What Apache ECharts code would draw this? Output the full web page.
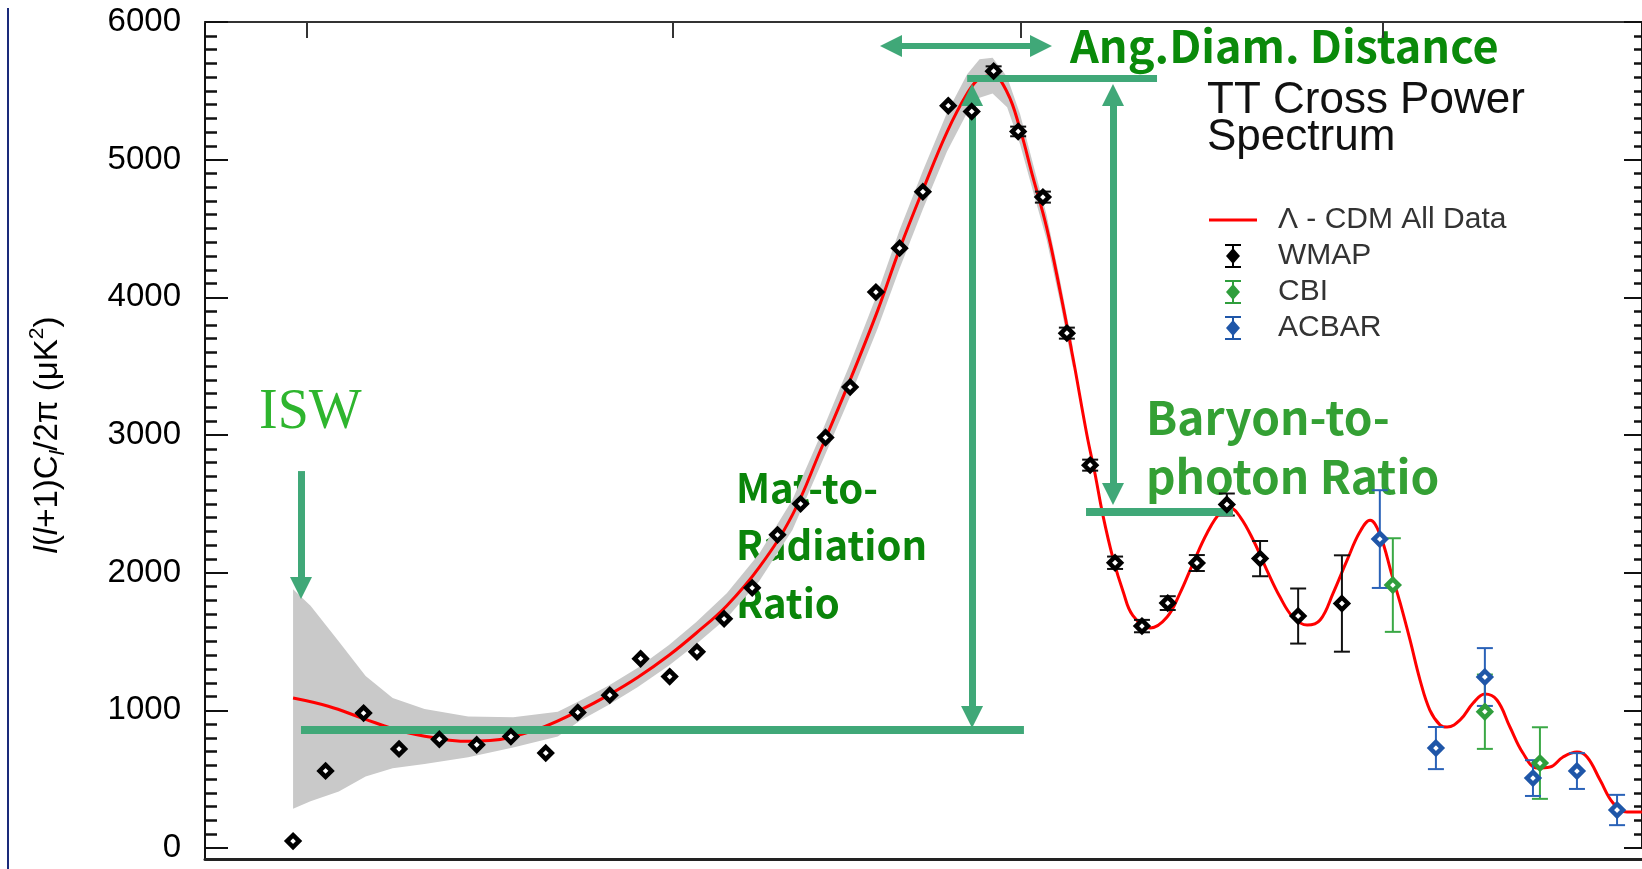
<!DOCTYPE html>
<html><head><meta charset="utf-8">
<script src="https://cdn.jsdelivr.net/npm/echarts@6/dist/echarts.min.js"></script>
<style>html,body{margin:0;padding:0;background:#fff}#c{width:1642px;height:869px}</style>
</head><body><div id="c"></div>
<script>
// ---------- data (multipole l, D_l = l(l+1)C_l/2pi in uK^2) ----------
const modelL = [2,3.1,4.6,6.7,9.6,12,14.7,17.3,22.1,28.4,34.4,41.3,49.8,58.2,69,82,97,111,128,145,160,177,196,213,224,236,250,263,276,291,306,321,338,348,358,371,385,398,423,448,468,489,512,534,552,570,594,620,646,672,702,730,759,791,821,846,870,901,922,948,975,1002,1031,1051,1089,1128,1164,1202,1244,1287,1335,1380,1427,1478,1516,1566,1617,1673,1735];
const modelD = [1090,1030,940,850,795,775,780,805,880,1000,1112,1240,1400,1560,1760,2040,2420,2880,3400,3900,4350,4780,5200,5480,5590,5610,5490,5220,4880,4510,4050,3566,3000,2720,2420,2110,1860,1690,1598,1678,1852,2070,2288,2433,2469,2404,2237,2019,1823,1678,1619,1656,1852,2091,2295,2380,2280,1980,1780,1511,1220,1002,893,879,930,1053,1118,1075,879,690,581,588,661,697,661,494,327,261,261];

const bandL  = [2,2.5,3.5,4.7,6.2,8.4,12.3,17.6,24.4,28.4,34.4,41.3,49.8,58.2,69,82,97,111,128,145,160,177,196,213,224,236,250,263,276,291,306,321];
const bandHi = [1880,1760,1500,1250,1090,1010,955,950,990,1070,1180,1310,1475,1640,1850,2140,2530,2990,3520,4030,4490,4920,5340,5620,5730,5740,5600,5330,4980,4600,4130,3640];
const bandLo = [285,340,410,520,580,610,660,730,810,925,1040,1170,1325,1480,1670,1940,2310,2770,3280,3770,4210,4640,5060,5340,5450,5480,5380,5110,4780,4420,3970,3490];

const wmapL   = [2,3,4.6,6.6,9.6,13.2,17.3,22.4,28,34.6,42,50,58.5,68,79,90,101,114,128,144,160,177,197,217,237,261,287,314,342,374,411,449,495,546,607,683,779];
const wmapD   = [50,560,980,720,790,750,810,690,985,1110,1375,1245,1425,1665,1890,2275,2500,2982,3348,4038,4357,4767,5392,5350,5643,5205,4728,3740,2781,2072,1612,1779,2070,2495,2102,1685,1776];
const wmapErr = [0,0,0,0,0,0,0,0,0,0,0,0,0,0,0,0,0,0,0,0,0,0,0,0,35,35,40,40,40,45,45,50,58,80,128,200,350];

const cbiL   = [903,1164,1345];
const cbiD   = [1910,990,617];
const cbiErr = [340,270,260];

const acbarL   = [870,1019,1164,1321,1478,1633];
const acbarD   = [2244,726,1242,508,559,276];
const acbarErr = [355,153,210,130,130,110];

const topTickL = [2.39,51,264,878];

const X_MIN_L = 0.511, X_MAX_L = 1735.4;
const Y_MIN = 0, Y_MAX = 6000, Y_STEP = 1000, Y_MINOR_SPLIT = 10;

// ---------- scale: the plot's multipole axis is spaced as l^(1/4) ----------
const sx = l => Math.pow(l, 0.25);

const G = '#40a878';
const cbiColor = '#2f9e3c', acbarColor = '#1f56a8';

function errSeries(name, L, D, E, color) {
  return {
    type: 'custom', name, coordinateSystem: 'cartesian2d', z: 4, silent: true, clip: true,
    data: L.map((l, i) => [sx(l), D[i] - E[i], D[i] + E[i], E[i]]).filter(d => d[3] > 0),
    encode: { x: 0, y: [1, 2] },
    renderItem: (p, api) => {
      const x = api.value(0);
      const lo = api.coord([x, api.value(1)]);
      const hi = api.coord([x, api.value(2)]);
      const w = 8, st = { stroke: color, lineWidth: 2 };
      return { type: 'group', children: [
        { type: 'line', shape: { x1: lo[0], y1: lo[1], x2: hi[0], y2: hi[1] }, style: st },
        { type: 'line', shape: { x1: lo[0] - w, y1: lo[1], x2: lo[0] + w, y2: lo[1] }, style: st },
        { type: 'line', shape: { x1: hi[0] - w, y1: hi[1], x2: hi[0] + w, y2: hi[1] }, style: st }
      ]};
    }
  };
}

function seg(l1, d1, l2, d2, s1, s2, width) {
  const a = { coord: [sx(l1), d1], symbol: s1 || 'none', symbolSize: [22, 22] };
  const b = { coord: [sx(l2), d2], symbol: s2 || 'none', symbolSize: [22, 22] };
  if (width) a.lineStyle = { width: width, color: G };
  return [a, b];
}

function yAxisDef(pos, majorLen, minorLen, extra) {
  return Object.assign({
    type: 'value', position: pos, min: Y_MIN, max: Y_MAX, interval: Y_STEP,
    axisLine: { show: true, onZero: false, lineStyle: { color: '#111', width: 2 } },
    axisTick: { show: true, inside: true, length: majorLen, lineStyle: { color: '#111', width: 2 } },
    minorTick: { show: true, splitNumber: Y_MINOR_SPLIT, length: minorLen, lineStyle: { color: '#111', width: 2.5 } },
    axisLabel: { show: false }, splitLine: { show: false }, minorSplitLine: { show: false }
  }, extra || {});
}

const errIcon = 'path://M0,0H16V2H0Z M7,0H9V24H7Z M0,22H16V24H0Z M8,4L15,12L8,20L1,12Z';
const lineIcon = 'path://M0,0H48V3H0Z';

const chart = echarts.init(document.getElementById('c'), null, { renderer: 'canvas' });
chart.setOption({
  animation: false,
  backgroundColor: '#fff',
  grid: { left: 205, right: 0, top: 22, bottom: 21 },
  legend: {
    left: 1204, top: 200, orient: 'vertical', selectedMode: false,
    itemWidth: 48, itemHeight: 24, itemGap: 6,
    textStyle: { fontFamily: 'Liberation Sans, Arial, sans-serif', fontSize: 30, color: '#333', padding: [0, 0, 0, 16] },
    data: [
      { name: 'Λ - CDM All Data', icon: lineIcon, itemStyle: { color: '#ff0000' } },
      { name: 'WMAP', icon: errIcon, itemStyle: { color: '#000', borderWidth: 0 } },
      { name: 'CBI', icon: errIcon, itemStyle: { color: cbiColor, borderWidth: 0 } },
      { name: 'ACBAR', icon: errIcon, itemStyle: { color: acbarColor, borderWidth: 0 } }
    ]
  },
  xAxis: [
    { type: 'value', position: 'bottom', offset: 11, min: sx(X_MIN_L), max: sx(X_MAX_L),
      axisLine: { show: true, onZero: false, lineStyle: { color: '#222', width: 3 } },
      axisTick: { show: false }, axisLabel: { show: false }, splitLine: { show: false } },
    { type: 'value', position: 'top', min: sx(X_MIN_L), max: sx(X_MAX_L),
      axisLine: { show: true, onZero: false, lineStyle: { color: '#333', width: 2 } },
      axisTick: { show: true, inside: true, length: 16, lineStyle: { color: '#333', width: 2 }, customValues: topTickL.map(sx) },
      axisLabel: { show: false }, splitLine: { show: false } }
  ],
  yAxis: [
    yAxisDef('left', 23, 12, {
      axisLabel: { show: true, margin: 24, formatter: v => String(v), fontFamily: 'Liberation Sans, Arial, sans-serif', fontSize: 33, color: '#000' },
      name: '{i|l}{n|(}{i|l}{n|+1)C}{s|l}{n|/2π (μK}{p|2}{n|)}',
      nameLocation: 'middle', nameRotate: 90, nameGap: 136,
      nameTextStyle: { rich: {
        n: { fontFamily: 'Liberation Sans, Arial', fontSize: 33, color: '#000', lineHeight: 42 },
        i: { fontFamily: 'Liberation Sans, Arial', fontStyle: 'italic', fontSize: 33, color: '#000', lineHeight: 42 },
        s: { fontFamily: 'Liberation Sans, Arial', fontStyle: 'italic', fontSize: 21, color: '#000', lineHeight: 42, verticalAlign: 'bottom' },
        p: { fontFamily: 'Liberation Sans, Arial', fontSize: 21, color: '#000', lineHeight: 42, verticalAlign: 'top' }
      } } }),
    yAxisDef('right', 18, 8)
  ],
  series: [
    { type: 'custom', name: 'band', coordinateSystem: 'cartesian2d', silent: true, z: 1, clip: true,
      data: [[sx(bandL[0]), bandHi[0]]],
      renderItem: (p, api) => {
        const pts = [];
        for (let i = 0; i < bandL.length; i++) pts.push(api.coord([sx(bandL[i]), bandHi[i]]));
        for (let i = bandL.length - 1; i >= 0; i--) pts.push(api.coord([sx(bandL[i]), bandLo[i]]));
        return { type: 'polygon', shape: { points: pts }, style: { fill: '#c9c9c9' } };
      } },
    { type: 'line', name: 'Λ - CDM All Data', z: 3, symbol: 'none', smooth: 0.4,
      data: modelL.map((l, i) => [sx(l), modelD[i]]),
      lineStyle: { color: '#ff0000', width: 3 }, itemStyle: { color: '#ff0000' } },
    errSeries('WMAP err', wmapL, wmapD, wmapErr, '#111'),
    errSeries('CBI err', cbiL, cbiD, cbiErr, '#3aa845'),
    errSeries('ACBAR err', acbarL, acbarD, acbarErr, '#2a62b8'),
    { type: 'scatter', name: 'WMAP', z: 5, symbol: 'diamond', symbolSize: 12, clip: false,
      data: wmapL.map((l, i) => [sx(l), wmapD[i]]),
      itemStyle: { color: '#fff', borderColor: '#000', borderWidth: 4.5, opacity: 1 } },
    { type: 'scatter', name: 'CBI', z: 5, symbol: 'diamond', symbolSize: 12,
      data: cbiL.map((l, i) => [sx(l), cbiD[i]]),
      itemStyle: { color: '#fff', borderColor: cbiColor, borderWidth: 4.5, opacity: 1 } },
    { type: 'scatter', name: 'ACBAR', z: 5, symbol: 'diamond', symbolSize: 12,
      data: acbarL.map((l, i) => [sx(l), acbarD[i]]),
      itemStyle: { color: '#fff', borderColor: acbarColor, borderWidth: 4.5, opacity: 1 } },
    { type: 'line', name: 'annotations', z: 10, data: [], silent: true,
      markLine: { silent: true, animation: false, symbol: ['none', 'none'], label: { show: false },
        lineStyle: { color: G, width: 8, type: 'solid' }, emphasis: { disabled: true },
        data: [
          seg(2.216, 1889, 2.216, 2738, 'triangle', 'none', 7),
          seg(2.216, 857, 266.9, 857, 'none', 'none', 8),
          seg(217.3, 951, 217.3, 5470, 'triangle', 'triangle', 7),
          seg(213, 5590, 432.9, 5590, 'none', 'none', 7),
          seg(371.3, 2571, 371.3, 5470, 'triangle', 'triangle', 7),
          seg(336.9, 2441, 556.9, 2441, 'none', 'none', 8),
          seg(154.05, 5826, 284.9, 5826, 'triangle', 'triangle', 6)
        ] } }
  ],
  graphic: [
    { type: 'line', silent: true, shape: { x1: 8, y1: 8, x2: 8, y2: 869 }, style: { stroke: '#1a2a7a', lineWidth: 2 } },
    { type: 'line', silent: true, shape: { x1: 205, y1: 846, x2: 205, y2: 859 }, style: { stroke: '#111', lineWidth: 2 } },
    { type: 'text', x: 1207, y: 82, style: { text: 'TT Cross Power\nSpectrum', fontFamily: 'Liberation Sans, Arial', fontSize: 44, lineHeight: 37.5, fill: '#111', textAlign: 'left', textVerticalAlign: 'top' } },
    { type: 'text', x: 1070, y: 46, style: { text: 'Ang.Diam. Distance', fontFamily: '"Noto Sans CJK JP", sans-serif', fontWeight: 'bold', fontSize: 45, fill: '#0a8a0a', textAlign: 'left', textVerticalAlign: 'middle' } },
    { type: 'text', x: 259, y: 413, style: { text: 'ISW', fontFamily: '"Liberation Serif", serif', fontSize: 56, fill: '#2eb52e', textAlign: 'left', textVerticalAlign: 'middle' } },
    { type: 'text', x: 736, y: 459, style: { text: 'Mat-to-\nRadiation\nRatio', fontFamily: '"Noto Sans CJK JP", sans-serif', fontWeight: 'bold', fontSize: 40, lineHeight: 57.5, fill: '#0a850a', textAlign: 'left', textVerticalAlign: 'top' } },
    { type: 'text', x: 1146, y: 388, style: { text: 'Baryon-to-\nphoton Ratio', fontFamily: '"Noto Sans CJK JP", sans-serif', fontWeight: 'bold', fontSize: 46, lineHeight: 59, fill: '#34a034', textAlign: 'left', textVerticalAlign: 'top' } }
  ]
});
</script></body></html>
